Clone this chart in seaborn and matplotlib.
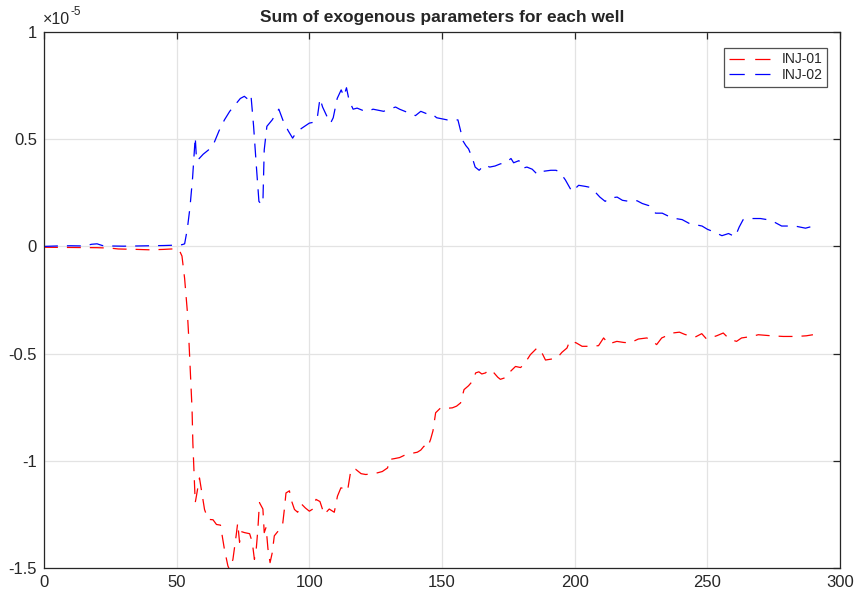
import matplotlib
matplotlib.use("Agg")
import matplotlib.pyplot as plt
from matplotlib.lines import Line2D
import seaborn as sns
import pandas as pd

# Sum of exogenous parameters per injection well (units of 1e-5)
inj01_x = [0, 10, 20, 25, 28, 32, 35, 40, 45, 48, 50, 51, 52, 53, 54, 54.6, 55.1, 55.8, 56.1, 56.5,
           57, 57.5, 58.6, 59.5, 60.5, 61.8, 63.7, 65, 66.5, 68, 69.3, 70, 71.2, 72.4, 73, 73.7, 74.3,
           75.6, 77.5, 78.5, 79.3, 80, 80.6, 81.2, 82.5, 83, 83.7, 84.4, 85.2, 86, 86.8, 88.1, 90,
           90.6, 91.2, 92.5, 93.1, 94.4, 95.6, 96.9, 98.5, 100, 101.3, 102.5, 104, 105.6, 107.5,
           109.4, 110.6, 111.9, 113.2, 114.4, 115.7, 117.5, 119.5, 121.3, 123.5, 125.7, 127.5, 129.5,
           130.1, 132, 134, 135.7, 137.5, 139.5, 140.7, 142, 143.2, 144.5, 145.7, 146.6, 147.6, 149.5,
           152, 153.9, 155.5, 157, 158.3, 160, 161.4, 162.7, 163.9, 165, 166.4, 167.7, 169.6, 171,
           172, 173.9, 175.8, 177.7, 179.6, 180.8, 182, 183.3, 185.8, 187, 189, 191.5, 193.4, 195.2,
           197.1, 197.7, 199, 200.3, 202.8, 205.9, 209, 210.9, 212.8, 215.9, 218.5, 220.9, 224,
           227.2, 229, 230.9, 232.8, 235, 236.9, 239.5, 241.4, 243.5, 245.4, 247.9, 249.7, 251.5,
           253.5, 256, 257.3, 259, 261, 262.9, 266.7, 269.2, 274.2, 278.6, 283.6, 287.3, 289.8]
inj01_y = [-0.004, -0.005, -0.006, -0.008, -0.012, -0.013, -0.014, -0.016, -0.014, -0.012, -0.012,
           -0.018, -0.045, -0.150, -0.300, -0.435, -0.575, -0.760, -0.916, -1.040, -1.195, -1.160,
           -1.080, -1.150, -1.227, -1.273, -1.275, -1.297, -1.300, -1.413, -1.490, -1.510, -1.460,
           -1.350, -1.290, -1.380, -1.330, -1.335, -1.340, -1.380, -1.460, -1.410, -1.320, -1.195,
           -1.225, -1.335, -1.310, -1.410, -1.475, -1.430, -1.350, -1.330, -1.290, -1.225, -1.150,
           -1.140, -1.180, -1.227, -1.240, -1.200, -1.220, -1.235, -1.225, -1.180, -1.190, -1.250,
           -1.225, -1.240, -1.165, -1.126, -1.130, -1.140, -1.040, -1.040, -1.060, -1.064, -1.060,
           -1.056, -1.050, -1.033, -0.994, -0.990, -0.985, -0.975, -0.970, -0.963, -0.960, -0.950,
           -0.932, -0.940, -0.900, -0.860, -0.776, -0.753, -0.755, -0.753, -0.745, -0.730, -0.668,
           -0.650, -0.630, -0.590, -0.585, -0.595, -0.590, -0.575, -0.590, -0.610, -0.620, -0.612,
           -0.583, -0.560, -0.565, -0.552, -0.530, -0.505, -0.474, -0.480, -0.530, -0.525, -0.520,
           -0.494, -0.474, -0.455, -0.465, -0.448, -0.466, -0.466, -0.463, -0.427, -0.455, -0.443,
           -0.448, -0.450, -0.432, -0.427, -0.440, -0.458, -0.427, -0.415, -0.404, -0.400, -0.410,
           -0.418, -0.423, -0.407, -0.432, -0.425, -0.417, -0.404, -0.420, -0.435, -0.443, -0.427,
           -0.420, -0.412, -0.417, -0.420, -0.420, -0.417, -0.412]

inj02_x = [0, 5, 10, 15, 18, 20, 22, 25, 30, 35, 40, 45, 50, 52, 53, 54, 55, 56, 57, 57.5, 58.5, 60,
           62, 64, 66, 68, 70, 72, 74, 75.5, 77, 78, 79, 80, 81, 82, 82.5, 83, 84, 86, 87.5, 88.5, 90,
           92, 93.7, 95, 97, 100, 102, 103, 104, 105, 106.5, 108, 109, 110.5, 112, 113, 114, 115,
           116.5, 118, 120, 122, 124, 126, 128, 130, 132.5, 134, 136, 138, 140, 142, 144, 146, 148,
           150, 152, 154, 156, 157, 158, 159, 160, 161.5, 162.5, 164, 166, 168, 170, 172, 174, 176,
           177, 179, 180.5, 182, 184, 186, 188, 191, 193, 194.5, 196.5, 199, 201.5, 204, 206, 208,
           209.5, 211.5, 213, 216, 218, 220.5, 223.5, 225.5, 228, 230.5, 233, 235.5, 238, 240.5,
           243.5, 246, 248, 250, 252, 255.5, 258, 260.5, 262, 263.5, 266, 270, 272.5, 275, 278, 283,
           287, 288.5, 290]
inj02_y = [0.000, 0.002, 0.003, 0.002, 0.010, 0.012, 0.004, 0.002, 0.001, 0.002, 0.003, 0.004, 0.006,
           0.008, 0.012, 0.080, 0.180, 0.320, 0.510, 0.400, 0.410, 0.430, 0.450, 0.480, 0.540, 0.590,
           0.630, 0.660, 0.690, 0.700, 0.685, 0.705, 0.560, 0.380, 0.210, 0.195, 0.205, 0.450, 0.560,
           0.590, 0.620, 0.640, 0.590, 0.540, 0.505, 0.530, 0.550, 0.575, 0.580, 0.600, 0.690, 0.650,
           0.610, 0.575, 0.600, 0.690, 0.730, 0.700, 0.740, 0.680, 0.640, 0.645, 0.635, 0.630, 0.640,
           0.635, 0.630, 0.640, 0.650, 0.640, 0.630, 0.620, 0.610, 0.630, 0.620, 0.620, 0.600, 0.595,
           0.590, 0.590, 0.590, 0.540, 0.490, 0.470, 0.455, 0.410, 0.370, 0.355, 0.380, 0.370, 0.375,
           0.385, 0.390, 0.410, 0.390, 0.400, 0.365, 0.370, 0.360, 0.335, 0.350, 0.355, 0.355, 0.345,
           0.310, 0.255, 0.285, 0.280, 0.275, 0.250, 0.230, 0.210, 0.225, 0.230, 0.215, 0.210, 0.213,
           0.200, 0.190, 0.155, 0.155, 0.140, 0.130, 0.125, 0.105, 0.100, 0.095, 0.080, 0.070, 0.050,
           0.060, 0.045, 0.090, 0.125, 0.130, 0.130, 0.125, 0.115, 0.095, 0.095, 0.085, 0.090, 0.095]

well_names = ["INJ-01", "INJ-02"]
well_colors = ["#ff0000", "#0000ff"]
x_ticks = [0, 50, 100, 150, 200, 250, 300]
y_ticks = [-1.5, -1, -0.5, 0, 0.5, 1]
y_tick_labels = ["-1.5", "-1", "-0.5", "0", "0.5", "1"]

df = pd.concat([
    pd.DataFrame({"t": inj01_x, "value": inj01_y, "well": well_names[0]}),
    pd.DataFrame({"t": inj02_x, "value": inj02_y, "well": well_names[1]}),
])

sns.set_style("white")
plt.rcParams["font.family"] = ["Liberation Sans", "DejaVu Sans"]
plt.rcParams["axes.unicode_minus"] = False

fig = plt.figure(figsize=(8.56, 5.95), dpi=100)
ax = fig.add_axes([44 / 856, 1 - 568 / 595, 796 / 856, 536 / 595])

lw = 0.9
dash = (10.0 / lw, 6.5 / lw)
sns.lineplot(data=df, x="t", y="value", hue="well", palette=well_colors,
             estimator=None, sort=False, linewidth=lw, ax=ax, legend=False)
for line in ax.get_lines():
    line.set_dashes(dash)

ax.set_xlim(0, 300)
ax.set_ylim(-1.5, 1)
ax.set_xticks(x_ticks)
ax.set_yticks(y_ticks)
ax.set_yticklabels(y_tick_labels)
ax.set_xlabel("")
ax.set_ylabel("")
ax.grid(True, color="#e3e3e3", linewidth=0.9)
ax.set_axisbelow(True)
for sp in ax.spines.values():
    sp.set_color("#262626")
    sp.set_linewidth(0.9)
ax.tick_params(direction="in", length=5, width=0.9, color="#262626",
               top=True, right=True, labelsize=12, labelcolor="#262626", pad=5)

ax.set_title("Sum of exogenous parameters for each well", fontsize=12.5,
             fontweight="bold", pad=7)

# axis multiplier: "x10" with a raised exponent
base = ax.text(-0.002, 1.01, "\u00d710", transform=ax.transAxes, fontsize=11.5,
               ha="left", va="bottom", color="#262626")
ax.annotate("-5", xy=(1.0, 0.55), xycoords=base, xytext=(1, 0),
            textcoords="offset points", fontsize=8.5, ha="left", va="bottom",
            color="#262626")

handles = [Line2D([], [], color=c, linewidth=lw, dashes=(11.0 / lw, 7.5 / lw))
           for c in well_colors]
leg = ax.legend(handles, well_names, loc="upper right", bbox_to_anchor=(0.984, 0.971),
                fontsize=10, frameon=True, fancybox=False, handlelength=3.0,
                borderpad=0.35, labelspacing=0.1, handletextpad=0.8, borderaxespad=0)
leg.get_frame().set_edgecolor("#262626")
leg.get_frame().set_linewidth(0.9)

fig.savefig("out.png", dpi=100)
